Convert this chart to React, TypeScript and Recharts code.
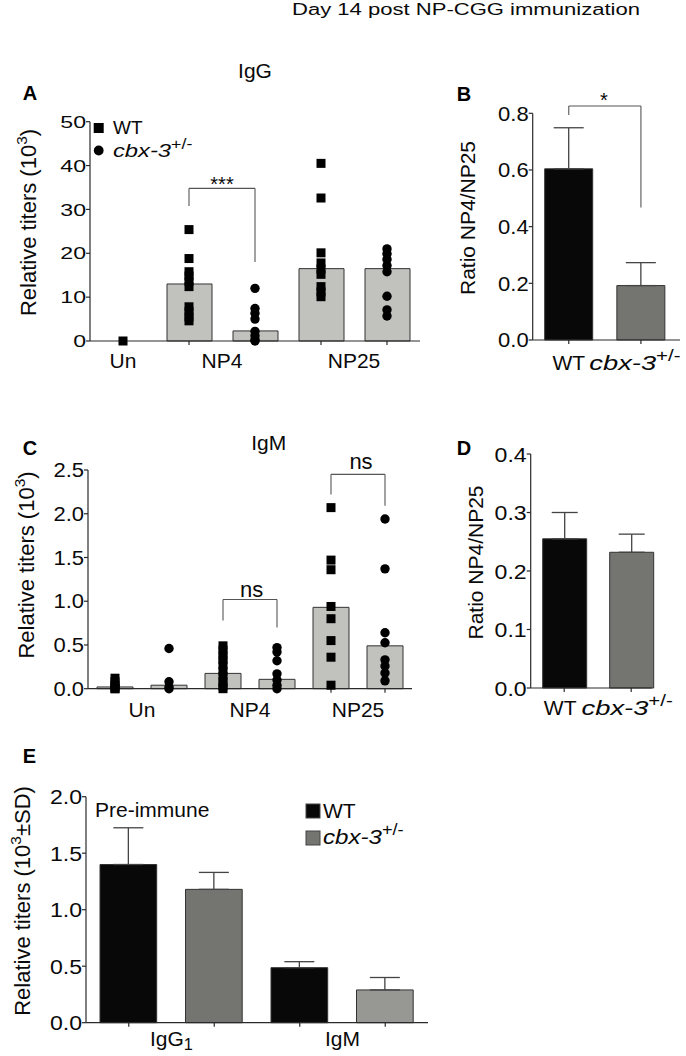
import React from "react";
import {
  ComposedChart,
  BarChart,
  Bar,
  Scatter,
  XAxis,
  YAxis,
  ReferenceLine,
  ErrorBar,
  Cell,
} from "recharts";

const FONT = "'Liberation Sans', Arial, Helvetica, sans-serif";

// ---------------- Panel A: IgG (day 14) ----------------
const igGCategories = ["Un", "NP4 WT", "NP4 cbx", "NP25 WT", "NP25 cbx"];
const igGBarMeans = [null, 13.0, 2.3, 16.5, 16.5];
const igGUnWT = [0];
const igGNP4WT = [25.4, 18.8, 15.8, 14.8, 13.6, 12.4, 7.8, 6.7, 5.5, 4.6];
const igGNP4Cbx = [12.0, 7.4, 6.3, 5.0, 2.2, 1.2, 0.3, 0];
const igGNP25WT = [40.5, 32.6, 20.1, 17.8, 16.4, 15.2, 12.4, 11.2, 10.1];
const igGNP25Cbx = [21.0, 19.9, 18.6, 17.2, 15.8, 10.2, 7.1, 5.7];
const igGTicks = [0, 10, 20, 30, 40, 50];
const igGBracket = { from: "NP4 WT", to: "NP4 cbx", left: 30.8, top: 34.8, right: 18.0 };

// ---------------- Panel B: ratio IgG ----------------
const genotypes = ["WT", "cbx"];
const bRatio = [0.604, 0.192];
const bErr = [0.145, 0.081];
const bTicks = [0, 0.2, 0.4, 0.6, 0.8];
const bBracket = { from: "WT", to: "cbx", left: 0.794, top: 0.826, right: 0.468 };

// ---------------- Panel C: IgM (day 14) ----------------
const igMCategories = ["Un WT", "Un cbx", "NP4 WT", "NP4 cbx", "NP25 WT", "NP25 cbx"];
const igMBarMeans = [0.02, 0.04, 0.175, 0.107, 0.93, 0.49];
const igMUnWT = [0.12, 0.08, 0.04, 0.02, 0, 0];
const igMUnCbx = [0.46, 0.08, 0.02, 0];
const igMNP4WT = [0.49, 0.44, 0.38, 0.33, 0.27, 0.2, 0.14, 0.08, 0.03, 0];
const igMNP4Cbx = [0.47, 0.42, 0.32, 0.17, 0.1, 0.04, 0];
const igMNP25WT = [2.07, 1.47, 1.36, 0.94, 0.8, 0.55, 0.36, 0.04];
const igMNP25Cbx = [1.94, 1.37, 0.64, 0.525, 0.33, 0.26, 0.18, 0.09];
const igMTicks = [0, 0.5, 1.0, 1.5, 2.0, 2.5];
const igMBracketNP4 = { from: "NP4 WT", to: "NP4 cbx", left: 0.78, top: 1.02, right: 0.7 };
const igMBracketNP25 = { from: "NP25 WT", to: "NP25 cbx", left: 2.22, top: 2.45, right: 2.09 };

// ---------------- Panel D: ratio IgM ----------------
const dRatio = [0.255, 0.232];
const dErr = [0.045, 0.031];
const dTicks = [0, 0.1, 0.2, 0.3, 0.4];

// ---------------- Panel E: pre-immune ----------------
const eIsotypes = ["IgG1", "IgM"];
const eWTMeans = [1.4, 0.487];
const eWTErr = [0.325, 0.053];
const eCbxMeans = [1.18, 0.29];
const eCbxErr = [0.15, 0.11];
const eTicks = [0, 0.5, 1.0, 1.5, 2.0];

// ---------------- derived tables ----------------
const pts = (cat: string, g: string, vals: number[]) => vals.map((y) => ({ cat, g, y }));
const igGTable = igGCategories.map((cat, i) => ({ cat, mean: igGBarMeans[i] }));
const igGPoints = [
  ...pts("Un", "wt", igGUnWT),
  ...pts("NP4 WT", "wt", igGNP4WT),
  ...pts("NP4 cbx", "cbx", igGNP4Cbx),
  ...pts("NP25 WT", "wt", igGNP25WT),
  ...pts("NP25 cbx", "cbx", igGNP25Cbx),
];
const igMTable = igMCategories.map((cat, i) => ({ cat, mean: igMBarMeans[i] }));
const igMPoints = [
  ...pts("Un WT", "wt", igMUnWT),
  ...pts("Un cbx", "cbx", igMUnCbx),
  ...pts("NP4 WT", "wt", igMNP4WT),
  ...pts("NP4 cbx", "cbx", igMNP4Cbx),
  ...pts("NP25 WT", "wt", igMNP25WT),
  ...pts("NP25 cbx", "cbx", igMNP25Cbx),
];
const bTable = genotypes.map((g, i) => ({ g, v: bRatio[i], err: [0, bErr[i]] }));
const dTable = genotypes.map((g, i) => ({ g, v: dRatio[i], err: [0, dErr[i]] }));
const eTable = eIsotypes.flatMap((iso, i) => [
  { key: iso + " WT", iso, v: eWTMeans[i], err: [0, eWTErr[i]] },
  { key: iso + " cbx", iso, v: eCbxMeans[i], err: [0, eCbxErr[i]] },
]);

// ---------------- styles ----------------
const AX = { stroke: "#2a2a2a", strokeWidth: 1.2 };
const LIGHT = "#c1c2be";
const BLACK = "#080808";
const GRAY = "#747571";
const LIGHTGRAY = "#979794";
const eFills = [BLACK, GRAY, BLACK, LIGHTGRAY];
const TXT = "#0a0a0a";

const YTick = (p: any) => {
  const { x, y, payload, fs, sx, digits } = p;
  return (
    <text
      transform={`translate(${x},${y}) scale(${sx},1)`}
      textAnchor="end"
      dy="0.36em"
      fontSize={fs}
      fontFamily={FONT}
      fill={TXT}
    >
      {Number(payload.value).toFixed(digits)}
    </text>
  );
};

const Cbx = ({ x, y, fs, sx, anchor = "middle" }: any) => (
  <g transform={`translate(${x},${y}) scale(${sx},1)`}>
    <text x={0} y={0} textAnchor={anchor} fontSize={fs} fontFamily={FONT} fill={TXT}>
      <tspan fontStyle="italic">cbx-3</tspan>
      <tspan fontSize={fs * 0.75} dy={-fs * 0.42}>
        +/-
      </tspan>
    </text>
  </g>
);

const GroupTick = (p: any) => {
  const { x, y, payload, labels, dy, fs } = p;
  const lab = labels[payload.value];
  if (!lab) return <g />;
  return (
    <text x={x + lab.dx} y={y + dy} textAnchor="middle" fontSize={fs} fontFamily={FONT} fill={TXT}>
      {lab.t === "IgG1" ? (
        <>
          IgG
          <tspan fontSize={fs * 0.78} dy={4}>
            1
          </tspan>
        </>
      ) : (
        lab.t
      )}
    </text>
  );
};

const GenoTick = (p: any) => {
  const { x, y, payload, dy, dxWT, dxCbx, fs, sx } = p;
  if (payload.value === "WT")
    return (
      <text x={x + dxWT} y={y + dy} textAnchor="middle" fontSize={fs} fontFamily={FONT} fill={TXT}>
        WT
      </text>
    );
  return <Cbx x={x + dxCbx} y={y + dy} fs={fs} sx={sx} />;
};

const Marker = (p: any) => {
  const { cx, cy, payload } = p;
  if (cx == null || cy == null) return <g />;
  return payload.g === "wt" ? (
    <rect x={cx - 4.5} y={cy - 4.5} width={9} height={9} fill="#000" />
  ) : (
    <circle cx={cx} cy={cy} r={4.7} fill="#000" />
  );
};

const BR = { stroke: "#555", strokeWidth: 1.1 };
const bracketLines = (b: any, id: string) => [
  <ReferenceLine key={id + "l"} ifOverflow="visible" segment={[{ x: b.from, y: b.left }, { x: b.from, y: b.top }]} {...BR} />,
  <ReferenceLine key={id + "t"} ifOverflow="visible" segment={[{ x: b.from, y: b.top }, { x: b.to, y: b.top }]} {...BR} />,
  <ReferenceLine key={id + "r"} ifOverflow="visible" segment={[{ x: b.to, y: b.top }, { x: b.to, y: b.right }]} {...BR} />,
];

const igGLabels: any = { Un: { t: "Un", dx: 0 }, "NP4 WT": { t: "NP4", dx: 33 }, "NP25 WT": { t: "NP25", dx: 33 } };
const igMLabels: any = { "Un WT": { t: "Un", dx: 27 }, "NP4 WT": { t: "NP4", dx: 27 }, "NP25 WT": { t: "NP25", dx: 27 } };
const eLabels: any = { "IgG1 WT": { t: "IgG1", dx: 42.7 }, "IgM WT": { t: "IgM", dx: 42.7 } };

const VLabel = ({ x, y, fs, children }: any) => (
  <text transform={`translate(${x},${y}) rotate(-90)`} textAnchor="middle" fontSize={fs} fontFamily={FONT} fill={TXT}>
    {children}
  </text>
);

const Titers = ({ fs, sd }: any) => (
  <>
    Relative titers (10
    <tspan fontSize={fs * 0.7} dy={-fs * 0.4}>
      3
    </tspan>
    <tspan dy={fs * 0.4}>{sd ? "±SD)" : ")"}</tspan>
  </>
);

export default function App() {
  return (
    <div style={{ position: "absolute", left: 0, top: 0, width: 686, height: 1056, background: "#fff" }}>
      {/* Panel A */}
      <div style={{ position: "absolute", left: 0, top: 100 }}>
        <ComposedChart width={440} height={280} data={igGTable} margin={{ top: 21.7, right: 20, bottom: 0, left: 0 }}>
          <XAxis
            dataKey="cat"
            type="category"
            allowDuplicatedCategory={false}
            interval={0}
            height={39}
            tickSize={4}
            tickMargin={0}
            axisLine={AX}
            tickLine={AX}
            tick={(p: any) => <GroupTick {...p} labels={igGLabels} dy={23} fs={21} />}
          />
          <YAxis
            type="number"
            domain={[0, 50]}
            ticks={igGTicks}
            width={90}
            tickSize={4}
            tickMargin={0}
            axisLine={AX}
            tickLine={AX}
            tick={(p: any) => <YTick {...p} fs={17} sx={1.36} digits={0} />}
          />
          <Bar dataKey="mean" barSize={45} fill={LIGHT} stroke="#333" strokeWidth={1} isAnimationActive={false} />
          <Scatter data={igGPoints} dataKey="y" shape={Marker} isAnimationActive={false} />
          {bracketLines(igGBracket, "a")}
        </ComposedChart>
      </div>

      {/* Panel B */}
      <div style={{ position: "absolute", left: 440, top: 80 }}>
        <BarChart width={246} height={300} data={bTable} margin={{ top: 33.3, right: 6, bottom: 0, left: 0 }}>
          <XAxis
            dataKey="g"
            interval={0}
            height={40}
            tickSize={4}
            tickMargin={0}
            padding={{ left: 0, right: 3 }}
            axisLine={AX}
            tickLine={AX}
            tick={(p: any) => <GenoTick {...p} dy={26} dxWT={0} dxCbx={-6} fs={21} sx={1.3} />}
          />
          <YAxis
            type="number"
            domain={[0, 0.8]}
            ticks={bTicks}
            width={92.7}
            tickSize={4}
            tickMargin={0}
            axisLine={AX}
            tickLine={AX}
            tick={(p: any) => <YTick {...p} fs={20} sx={1.1} digits={1} />}
          />
          <Bar dataKey="v" barSize={48} stroke="#333" strokeWidth={1} isAnimationActive={false}>
            <Cell fill={BLACK} />
            <Cell fill={GRAY} />
            <ErrorBar dataKey="err" direction="y" width={15} stroke="#444" strokeWidth={1.3} />
          </Bar>
          {bracketLines(bBracket, "b")}
        </BarChart>
      </div>

      {/* Panel C */}
      <div style={{ position: "absolute", left: 0, top: 440 }}>
        <ComposedChart width={440} height={290} data={igMTable} margin={{ top: 30, right: 28, bottom: 0, left: 0 }}>
          <XAxis
            dataKey="cat"
            type="category"
            allowDuplicatedCategory={false}
            interval={0}
            height={41.3}
            tickSize={4}
            tickMargin={0}
            axisLine={AX}
            tickLine={AX}
            tick={(p: any) => <GroupTick {...p} labels={igMLabels} dy={24} fs={21} />}
          />
          <YAxis
            type="number"
            domain={[0, 2.5]}
            ticks={igMTicks}
            width={88}
            tickSize={4}
            tickMargin={0}
            axisLine={AX}
            tickLine={AX}
            tick={(p: any) => <YTick {...p} fs={20} sx={1.1} digits={1} />}
          />
          <Bar dataKey="mean" barSize={36} fill={LIGHT} stroke="#333" strokeWidth={1} isAnimationActive={false} />
          <Scatter data={igMPoints} dataKey="y" shape={Marker} isAnimationActive={false} />
          {bracketLines(igMBracketNP4, "c1")}
          {bracketLines(igMBracketNP25, "c2")}
        </ComposedChart>
      </div>

      {/* Panel D */}
      <div style={{ position: "absolute", left: 440, top: 420 }}>
        <BarChart width={246} height={310} data={dTable} margin={{ top: 34, right: 34.3, bottom: 0, left: 0 }}>
          <XAxis
            dataKey="g"
            interval={0}
            height={42}
            tickSize={4}
            tickMargin={0}
            padding={{ left: 0, right: -13 }}
            axisLine={AX}
            tickLine={AX}
            tick={(p: any) => <GenoTick {...p} dy={23} dxWT={-4} dxCbx={-4} fs={21} sx={1.3} />}
          />
          <YAxis
            type="number"
            domain={[0, 0.4]}
            ticks={dTicks}
            width={90.7}
            tickSize={4}
            tickMargin={0}
            axisLine={AX}
            tickLine={AX}
            tick={(p: any) => <YTick {...p} fs={21} sx={1.1} digits={1} />}
          />
          <Bar dataKey="v" barSize={44} stroke="#333" strokeWidth={1} isAnimationActive={false}>
            <Cell fill={BLACK} />
            <Cell fill={GRAY} />
            <ErrorBar dataKey="err" direction="y" width={13} stroke="#444" strokeWidth={1.3} />
          </Bar>
        </BarChart>
      </div>

      {/* Panel E */}
      <div style={{ position: "absolute", left: 0, top: 760 }}>
        <BarChart width={460} height={296} data={eTable} margin={{ top: 36.7, right: 32, bottom: 0, left: 0 }}>
          <XAxis
            dataKey="key"
            interval={0}
            height={33.3}
            tickSize={4}
            tickMargin={0}
            axisLine={AX}
            tickLine={AX}
            tick={(p: any) => <GroupTick {...p} labels={eLabels} dy={19.3} fs={21} />}
          />
          <YAxis
            type="number"
            domain={[0, 2]}
            ticks={eTicks}
            width={86}
            tickSize={4}
            tickMargin={0}
            axisLine={AX}
            tickLine={AX}
            tick={(p: any) => <YTick {...p} fs={21} sx={1.1} digits={1} />}
          />
          <Bar dataKey="v" barSize={56.7} stroke="#333" strokeWidth={1} isAnimationActive={false}>
            {eTable.map((d, i) => (
              <Cell key={d.key} fill={eFills[i]} />
            ))}
            <ErrorBar dataKey="err" direction="y" width={15} stroke="#444" strokeWidth={1.3} />
          </Bar>
        </BarChart>
      </div>

      {/* Text overlay */}
      <svg
        width={686}
        height={1056}
        style={{ position: "absolute", left: 0, top: 0, pointerEvents: "none" }}
        fontFamily={FONT}
      >
        <text x={292} y={15} fontSize={16} textLength={348} lengthAdjust="spacingAndGlyphs" fill={TXT}>
          Day 14 post NP-CGG immunization
        </text>
        <text x={255} y={78} textAnchor="middle" fontSize={21} fill={TXT}>
          IgG
        </text>
        <text x={268.7} y={449.5} textAnchor="middle" fontSize={21} fill={TXT}>
          IgM
        </text>
        {[
          ["A", 30, 100],
          ["B", 464, 101],
          ["C", 30, 455],
          ["D", 464, 455],
          ["E", 29.5, 763],
        ].map(([t, x, y]) => (
          <text key={t as string} x={x as number} y={y as number} textAnchor="middle" fontSize={20} fontWeight="bold" fill="#000">
            {t}
          </text>
        ))}

        {/* Panel A legend */}
        <rect x={93.7} y={123} width={10} height={10} fill="#000" />
        <text x={113} y={134} fontSize={19} fill={TXT}>
          WT
        </text>
        <circle cx={98.7} cy={150.5} r={4.9} fill="#000" />
        <Cbx x={113} y={157.3} fs={19} sx={1.25} anchor="start" />

        {/* significance */}
        <text x={222} y={191} textAnchor="middle" fontSize={20} fill={TXT}>
          ***
        </text>
        <text x={604} y={107} textAnchor="middle" fontSize={20} fill={TXT}>
          *
        </text>
        <text x={251.7} y={597} textAnchor="middle" fontSize={22} fill={TXT}>
          ns
        </text>
        <text x={361} y={469} textAnchor="middle" fontSize={22} fill={TXT}>
          ns
        </text>

        {/* Panel E annotations */}
        <text x={95} y={817} fontSize={21} fill={TXT}>
          Pre-immune
        </text>
        <rect x={306} y={804} width={14} height={14} fill={BLACK} stroke="#444" strokeWidth={1} />
        <text x={323} y={818} fontSize={21} fill={TXT}>
          WT
        </text>
        <rect x={306} y={831} width={14} height={14} fill={GRAY} stroke="#444" strokeWidth={1} />
        <Cbx x={323} y={844} fs={21} sx={1.15} anchor="start" />

        {/* Y axis labels */}
        <VLabel x={36} y={222.5} fs={22}>
          <Titers fs={22} />
        </VLabel>
        <VLabel x={475} y={218} fs={21}>
          Ratio NP4/NP25
        </VLabel>
        <VLabel x={34} y={565} fs={22}>
          <Titers fs={22} />
        </VLabel>
        <VLabel x={483} y={562.5} fs={21}>
          Ratio NP4/NP25
        </VLabel>
        <VLabel x={30} y={901} fs={22}>
          <Titers fs={22} sd />
        </VLabel>
      </svg>
    </div>
  );
}
